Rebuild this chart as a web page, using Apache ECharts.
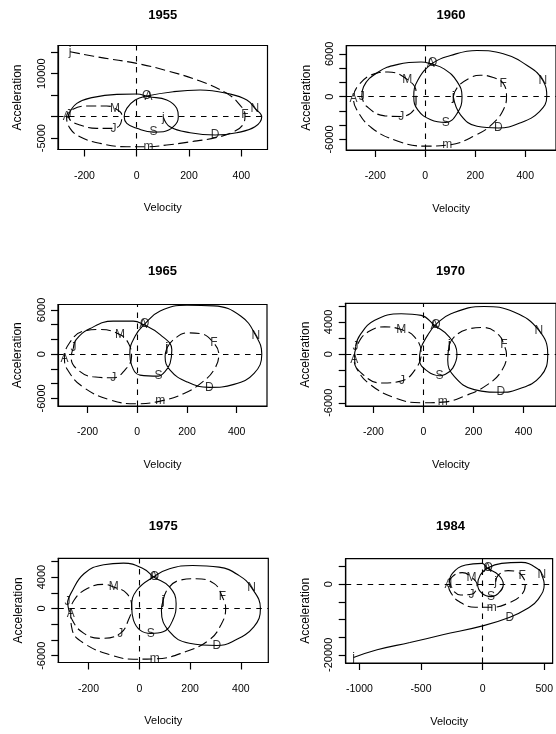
<!DOCTYPE html>
<html><head><meta charset="utf-8">
<script src="https://cdn.jsdelivr.net/npm/echarts@6/dist/echarts.min.js"></script>
<style>html,body{margin:0;padding:0;background:#fff}#c{width:556px;height:734px}</style>
</head><body><div id="c"></div>
<script>
const years = ['1955', '1960', '1965', '1970', '1975', '1984'];
const monthLetters = ['j', 'F', 'm', 'A', 'M', 'J', 'J', 'A', 'S', 'O', 'N', 'D', 'j'];

// [velocity, acceleration]. first half = Jan..Jul (long dash), second half = Jul..Jan (solid)
const first1955 = [[-255,15100],[-140,13800],[0,12400],[115,10700],[242,8290],[344,5430],[389,3100],[414,390],[405,-1940],[370,-3490],[306,-4810],[191,-5970],[115,-6590],[45,-6980],[-38,-6980],[-140,-6200],[-217,-4650],[-255,-2710],[-268,0],[-249,1550],[-191,2480],[-115,2480],[-83,1940],[-57,390],[-61,-1550],[-89,-2710],[-153,-2710],[-217,-1940],[-255,-780],[-261,390]];
const second1955 = [[-261,390],[-229,3100],[-166,4500],[-76,5190],[0,5270],[45,4650],[115,3880],[153,1940],[159,0],[140,-2330],[102,-3490],[64,-3600],[0,-2710],[-38,-1550],[-48,0],[-38,1940],[-6,3880],[38,4800],[140,5810],[242,6200],[357,5270],[421,3880],[452,1940],[478,0],[452,-2330],[382,-3720],[300,-4260],[204,-3720],[127,-2330],[102,-150]];
const labels1955 = [[-255,15100],[414,390],[45,-6980],[-268,0],[-83,1940],[-89,-2710],[-261,390],[45,4650],[64,-3600],[38,4800],[452,1940],[300,-4260],[102,-150]];

const first1960 = [[112,0],[128,1290],[174,2540],[220,3000],[272,2680],[312,1850],[325,0],[312,-1850],[272,-3700],[207,-5300],[88,-6780],[-4,-6920],[-109,-6230],[-214,-4380],[-274,-1850],[-287,-230],[-267,1610],[-201,3230],[-149,3460],[-72,2400],[-37,690],[-37,-920],[-96,-2770],[-162,-2680],[-234,-1380],[-254,0]];
const second1960 = [[-254,0],[-247,1380],[-188,3460],[-109,4520],[-17,4850],[22,4600],[75,3900],[128,2080],[147,0],[128,-2300],[82,-3600],[22,-3230],[-30,-1850],[-46,0],[-30,2300],[30,4700],[101,5770],[207,6460],[312,6000],[417,4150],[470,2300],[486,0],[457,-2080],[378,-3700],[292,-4380],[207,-4150],[141,-2540],[112,0]];
const labels1960 = [[112,0],[312,1850],[88,-6780],[-287,-230],[-72,2400],[-96,-2770],[-254,0],[22,4600],[82,-3600],[30,4700],[470,2300],[292,-4380],[112,0]];

const first1965 = [[119,820],[146,1970],[200,2890],[254,2790],[308,1510],[328,0],[308,-2150],[254,-3990],[186,-5360],[92,-6370],[-3,-6730],[-111,-6180],[-219,-4440],[-280,-2150],[-293,-550],[-273,1510],[-219,3110],[-151,3340],[-70,2660],[-36,1510],[-23,-320],[-50,-2150],[-97,-3200],[-178,-3070],[-246,-1920],[-266,-400],[-257,820]];
const second1965 = [[-257,820],[-246,1970],[-192,3440],[-97,4490],[-16,4490],[24,4030],[92,2660],[139,600],[132,-1240],[105,-2610],[85,-2980],[11,-2840],[-23,-1470],[-30,140],[-9,2430],[30,4100],[92,5860],[200,6640],[308,6550],[416,5180],[477,2520],[501,0],[470,-2610],[389,-4100],[290,-4500],[200,-3760],[132,-2150],[112,-320],[119,820]];
const labels1965 = [[119,820],[308,1510],[92,-6370],[-293,-550],[-70,2660],[-97,-3200],[-257,820],[24,4030],[85,-2980],[30,4100],[477,2520],[290,-4500],[119,820]];

const first1970 = [[103,1140],[123,2160],[176,3100],[242,3310],[302,2370],[322,1140],[332,0],[315,-1920],[256,-3760],[163,-5180],[77,-5920],[-9,-6000],[-115,-5390],[-221,-3550],[-268,-1710],[-277,-690],[-262,1300],[-221,2780],[-155,3390],[-89,3060],[-36,2160],[-9,120],[-29,-1710],[-86,-3270],[-168,-3550],[-241,-2530],[-275,-700],[-272,940]];
const second1970 = [[-272,940],[-254,2370],[-195,4200],[-89,5020],[-9,4820],[44,3590],[103,2160],[134,0],[117,-1710],[83,-2530],[64,-2650],[17,-2120],[-16,-690],[-12,530],[17,2370],[50,3700],[110,5020],[242,5920],[362,5220],[461,2980],[497,0],[468,-2730],[375,-4370],[309,-4690],[203,-4370],[123,-2730],[97,-690],[103,1140]];
const labels1970 = [[103,1140],[322,1140],[77,-5920],[-277,-690],[-89,3060],[-86,-3270],[-272,940],[44,3590],[64,-2650],[50,3700],[461,2980],[309,-4690],[103,1140]];

const first1975 = [[94,1050],[113,2530],[158,3580],[223,3790],[295,3160],[327,1470],[340,0],[321,-2110],[275,-4000],[184,-5470],[61,-6400],[-23,-6440],[-114,-5890],[-218,-4420],[-264,-2740],[-270,-630],[-257,1050],[-205,2530],[-140,3070],[-101,2740],[-49,1890],[-30,210],[-43,-1470],[-75,-3160],[-153,-3790],[-218,-3160],[-264,-1470],[-283,840]];
const second1975 = [[-283,840],[-270,1890],[-218,4420],[-140,5560],[-62,5770],[16,5050],[57,4000],[119,2740],[145,630],[132,-1470],[94,-2950],[45,-3160],[3,-2740],[-23,-1470],[-30,210],[-10,2320],[60,4100],[119,5050],[210,5470],[314,5260],[392,4210],[442,2650],[477,0],[451,-2320],[366,-4210],[305,-4700],[197,-4420],[119,-2950],[87,-210],[94,1050]];
const labels1975 = [[94,1050],[327,1470],[61,-6400],[-270,-630],[-101,2740],[-75,-3160],[-283,840],[57,4000],[45,-3160],[60,4100],[442,2650],[305,-4700],[94,1050]];

const first1984 = [[106,750],[128,2640],[207,3870],[280,3500],[320,2400],[346,0],[314,-3020],[207,-5380],[74,-6510],[-59,-6510],[-191,-4910],[-258,-2360],[-277,-190],[-245,2170],[-165,3300],[-90,1980],[-45,-190],[-90,-2830],[-178,-3020],[-245,-1600],[-271,280]];
const second1984 = [[-271,280],[-245,3110],[-138,5470],[-5,5940],[40,4530],[128,2640],[168,0],[128,-2550],[69,-3490],[-5,-2550],[-40,-190],[-19,2640],[45,4700],[154,5940],[314,6230],[460,4060],[480,2640],[500,0],[447,-4430],[367,-6790],[221,-9340],[0,-11800],[-324,-14340],[-590,-16510],[-856,-18580],[-1048,-20800]];
const labels1984 = [[106,750],[320,2400],[74,-6510],[-277,-190],[-90,1980],[-90,-2830],[-271,280],[40,4530],[69,-3490],[45,4700],[480,2640],[221,-9340],[-1048,-20800]];

const xTicksA = [-200, 0, 200, 400];
const xTicks1984 = [-1000, -500, 0, 500];
const yTicks1955 = [-5000, 0, 5000, 10000, 15000];
const yLabels1955 = [-5000, 10000];
const yTicks6k = [-6000, -4000, -2000, 0, 2000, 4000, 6000];
const yLabels1960 = [-6000, 0, 6000];
const yLabels1965 = [-6000, 0, 6000];
const yLabels1970 = [-6000, 0, 4000];
const yLabels1975 = [-6000, 0, 4000];
const yTicks1984 = [-20000, -15000, -10000, -5000, 0, 5000];
const yLabels1984 = [-20000, 0];

const firsts = [first1955, first1960, first1965, first1970, first1975, first1984];
const seconds = [second1955, second1960, second1965, second1970, second1975, second1984];
const labelPts = [labels1955, labels1960, labels1965, labels1970, labels1975, labels1984];
const xTicks = [xTicksA, xTicksA, xTicksA, xTicksA, xTicksA, xTicks1984];
const yTicks = [yTicks1955, yTicks6k, yTicks6k, yTicks6k, yTicks6k, yTicks1984];
const yLabels = [yLabels1955, yLabels1960, yLabels1965, yLabels1970, yLabels1975, yLabels1984];

// layout (pixel boxes and axis extents)
const panels = [
  {left:58, top:45.5, width:209.5, height:104, xMin:-301, xMax:500, yMin:-7630, yMax:16560, titleY:9},
  {left:346.3, top:45.7, width:211, height:104.3, xMin:-316, xMax:523, yMin:-7465, yMax:7140, titleY:9},
  {left:58, top:304.5, width:209, height:101.5, xMin:-319, xMax:522, yMin:-7030, yMax:6740, titleY:265},
  {left:345.7, top:303.3, width:211, height:102.7, xMin:-311, xMax:530, yMin:-6400, yMax:6310, titleY:265},
  {left:58.3, top:558.3, width:210, height:104.2, xMin:-319, xMax:508, yMin:-6860, yMax:6380, titleY:520},
  {left:345.7, top:558.7, width:211, height:104.3, xMin:-1111, xMax:568, yMin:-22330, yMax:7260, titleY:520}
];
const titleCenters = [162.8, 451, 162.5, 450.5, 163.3, 450.5];

const FONT = "'Liberation Sans', Arial, sans-serif";
const fmt = v => String(v);

const option = {
  animation: false,
  backgroundColor: '#fff',
  title: years.map((y, i) => ({
    text: y, left: titleCenters[i], top: panels[i].titleY, textAlign: 'center', padding: 0,
    textStyle: {fontSize: 13, fontWeight: 'bold', fontFamily: FONT, color: '#000'}
  })),
  grid: panels.map(p => ({left: p.left, top: p.top, width: p.width, height: p.height, show: true,
    borderColor: '#000', borderWidth: 1.2, backgroundColor: 'transparent', containLabel: false})),
  xAxis: panels.map((p, i) => ({
    type: 'value', gridIndex: i, min: p.xMin, max: p.xMax,
    axisLine: {show: true, onZero: false, lineStyle: {color: '#000', width: 1.2}},
    axisTick: {show: true, inside: false, length: 7, customValues: xTicks[i], lineStyle: {color: '#000', width: 1.2}},
    axisLabel: {show: true, customValues: xTicks[i], margin: 21, fontSize: 10.5, fontFamily: FONT, color: '#000', formatter: fmt, hideOverlap: false, showMinLabel: true, showMaxLabel: true},
    splitLine: {show: false},
    name: 'Velocity', nameLocation: 'middle', nameGap: 53,
    nameTextStyle: {fontSize: 11, fontFamily: FONT, color: '#000'}
  })),
  yAxis: panels.map((p, i) => ({
    type: 'value', gridIndex: i, min: p.yMin, max: p.yMax,
    axisLine: {show: true, onZero: false, lineStyle: {color: '#000', width: 1.2}},
    axisTick: {show: true, inside: false, length: 7, customValues: yTicks[i], lineStyle: {color: '#000', width: 1.2}},
    axisLabel: {show: true, customValues: yLabels[i], rotate: 90, margin: 11, fontSize: 11, fontFamily: FONT, color: '#000', formatter: fmt, hideOverlap: false},
    splitLine: {show: false},
    name: 'Acceleration', nameLocation: 'middle', nameGap: 34, nameRotate: 90,
    nameTextStyle: {fontSize: 12, fontFamily: FONT, color: '#000'}
  })),
  series: []
};

panels.forEach((p, i) => {
  option.series.push({
    type: 'line', xAxisIndex: i, yAxisIndex: i, data: firsts[i], smooth: 0.45, symbol: 'none', clip: true,
    lineStyle: {color: '#000', width: 1.1, type: [10, 4.5]},
    markLine: {silent: true, symbol: 'none', label: {show: false},
      lineStyle: {color: '#000', width: 1.1, type: [5.5, 5.5]},
      data: [{xAxis: 0}, {yAxis: 0}]}
  });
  option.series.push({
    type: 'line', xAxisIndex: i, yAxisIndex: i, data: seconds[i], smooth: 0.45, symbol: 'none', clip: true,
    lineStyle: {color: '#000', width: 1.1, type: 'solid'}
  });
  option.series.push({
    type: 'scatter', xAxisIndex: i, yAxisIndex: i, clip: false,
    data: labelPts[i].map((pt, k) => ({value: pt, name: monthLetters[k]})),
    symbolSize: 1, itemStyle: {color: 'rgba(0,0,0,0)'},
    label: {show: true, position: 'inside', formatter: d => d.name, color: '#000', fontSize: 12, fontFamily: FONT}
  });
});

const chart = echarts.init(document.getElementById('c'), null, {renderer: 'canvas'});
chart.setOption(option);
</script>
</body></html>
